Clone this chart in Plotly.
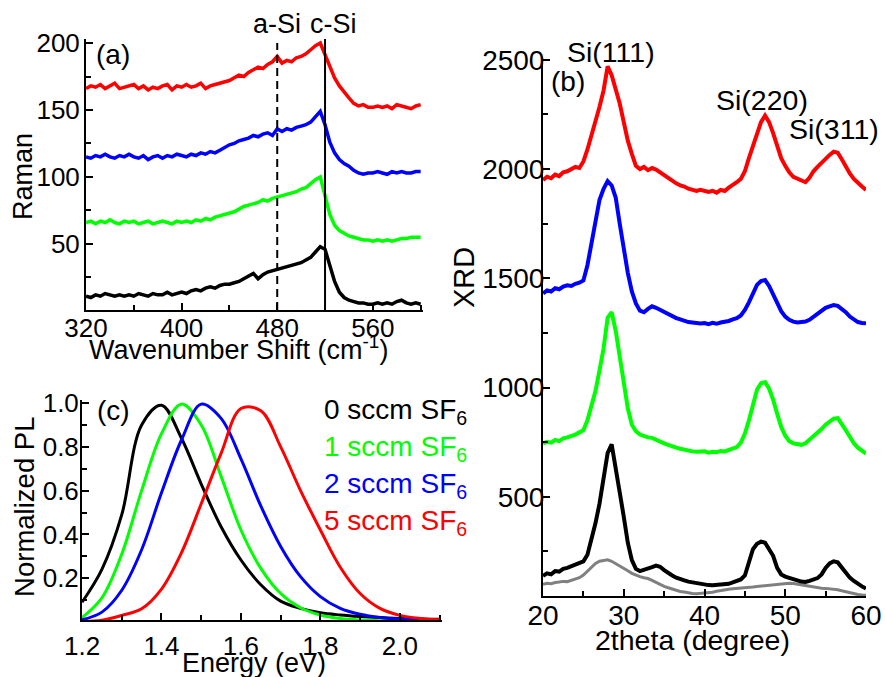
import plotly.graph_objects as go

# ---------------- (a) Raman spectra ----------------
RAMAN_SHIFT = list(range(320, 601, 4))  # cm^-1 sampling grid

RAMAN_0SCCM = [
    11, 10, 12, 11, 13, 12, 11, 12, 11, 12,
    11, 13, 12, 11, 13, 12, 12, 14, 12, 13,
    14, 13, 15, 16, 15, 17, 18, 17, 19, 20,
    20, 21, 22, 24, 26, 28, 24, 27, 29, 30,
    31, 32, 33, 34, 35, 36, 38, 40, 44, 48,
    46, 34, 22, 14, 10, 8, 7, 6, 6, 5,
    5, 6, 5, 6, 5, 7, 8, 6, 5, 6,
    5,
]
RAMAN_1SCCM = [
    66, 67, 65, 67, 66, 68, 66, 65, 67, 66,
    67, 65, 66, 67, 65, 66, 67, 66, 65, 67,
    66, 67, 66, 68, 67, 69, 68, 70, 71, 72,
    73, 74, 76, 78, 79, 80, 81, 83, 82, 84,
    85, 86, 87, 88, 89, 91, 92, 95, 98, 100,
    86, 72, 64, 60, 58, 56, 55, 54, 53, 53,
    52, 53, 52, 53, 52, 53, 54, 54, 55, 55,
    55,
]
RAMAN_2SCCM = [
    115, 114, 116, 115, 117, 115, 114, 116, 115, 117,
    115, 114, 116, 113, 115, 116, 114, 116, 115, 117,
    116, 115, 117, 116, 118, 117, 119, 118, 120, 122,
    124, 125, 127, 128, 129, 131, 130, 132, 133, 131,
    136, 134, 136, 135, 137, 138, 139, 141, 145, 149,
    139, 126, 118, 113, 110, 108, 105, 103, 102, 103,
    103, 104, 103, 102, 104, 103, 104, 103, 103, 104,
    104,
]
RAMAN_5SCCM = [
    166, 168, 167, 169, 166, 168, 170, 166, 167, 168,
    169, 166, 168, 165, 167, 166, 168, 169, 165, 168,
    167, 169, 167, 168, 170, 166, 168, 169, 170, 171,
    172, 174, 176, 175, 178, 180, 182, 181, 184, 186,
    190, 185, 187, 186, 189, 190, 192, 195, 198, 200,
    191, 182, 174, 168, 163, 159, 155, 153, 154, 152,
    152, 153, 152, 153, 151, 154, 153, 152, 151, 153,
    154,
]
A_SI_SHIFT = 480
C_SI_SHIFT = 520

# ---------------- (b) XRD patterns ----------------
TWO_THETA = [20 + 0.5 * i for i in range(81)]  # degree sampling grid

XRD_SUBSTRATE = [
    100, 104, 102, 108, 110, 113, 112, 118, 122, 130,
    142, 160, 180, 195, 205, 210, 212, 205, 195, 185,
    172, 162, 150, 142, 135, 130, 126, 118, 108, 98,
    90, 84, 78, 72, 67, 64, 60, 58, 57, 58,
    58, 60, 63, 68, 72, 75, 77, 79, 80, 81,
    82, 84, 87, 90, 92, 95, 97, 99, 101, 103,
    104, 104, 103, 100, 96, 92, 88, 86, 84, 82,
    81, 80, 78, 75, 70, 65, 60, 56, 53, 51,
    50,
]
XRD_0SCCM = [
    138, 150, 145, 160, 158, 170, 175, 182, 190, 198,
    205, 235, 300, 380, 470, 580, 700, 740, 640, 520,
    409, 290, 210, 170, 160, 165, 172, 178, 185, 180,
    165, 150, 140, 130, 122, 118, 112, 108, 104, 100,
    98, 96, 95, 97, 96, 98, 102, 108, 115, 122,
    140, 200, 260, 285, 295, 290, 260, 230, 175, 145,
    135, 128, 125, 118, 112, 110, 115, 122, 128, 145,
    175, 195, 205, 200, 175, 150, 130, 115, 100, 90,
    80,
]
XRD_1SCCM = [
    745, 752, 748, 760, 755, 768, 772, 778, 785, 795,
    805, 850, 920, 985, 1080, 1180, 1320, 1345, 1260, 1140,
    1030, 905, 830, 800, 785, 778, 772, 770, 760, 752,
    745, 738, 730, 725, 720, 715, 712, 708, 706, 705,
    708, 702, 706, 704, 710, 708, 715, 720, 728, 748,
    790, 850, 930, 990, 1020, 1025, 995, 945, 880, 820,
    780, 755, 745, 740, 738, 745, 760, 775, 792, 810,
    830, 845, 858, 860, 835, 805, 775, 745, 725, 710,
    698,
]
XRD_2SCCM = [
    1431, 1445, 1440, 1455, 1450, 1462, 1468, 1465, 1475, 1480,
    1490, 1560, 1660, 1770, 1860, 1910, 1945, 1925, 1870, 1750,
    1630, 1525, 1440, 1385, 1352, 1345, 1360, 1372, 1365, 1355,
    1350, 1340, 1330, 1318, 1312, 1305, 1300, 1298, 1295, 1293,
    1295, 1290, 1296, 1292, 1298, 1300, 1305, 1312, 1318, 1330,
    1355, 1390, 1435, 1470, 1488, 1492, 1465, 1430, 1390, 1350,
    1325, 1310, 1302, 1298, 1300, 1302, 1310, 1325, 1340, 1355,
    1365, 1372, 1378, 1374, 1360, 1345, 1325, 1310, 1300, 1296,
    1294,
]
XRD_5SCCM = [
    1950, 1965, 1958, 1975, 1968, 1985, 1990, 1998, 2010, 2005,
    2035, 2090, 2150, 2210, 2285, 2360, 2470, 2430, 2370, 2300,
    2215, 2130, 2070, 2015, 2000, 2010, 1995, 2005, 1998, 1985,
    1975, 1960, 1945, 1935, 1925, 1920, 1910, 1905, 1900, 1905,
    1898, 1895, 1900, 1892, 1905, 1900, 1915, 1925, 1940, 1955,
    1990, 2050, 2110, 2170, 2215, 2245, 2215, 2165, 2100, 2050,
    2015, 1985, 1965, 1955, 1945, 1940, 1960, 1990, 2010, 2030,
    2050, 2065, 2080, 2075, 2045, 2010, 1980, 1955, 1935, 1920,
    1905,
]

# ---------------- (c) normalized photoluminescence ----------------
ENERGY = [1.20, 1.25, 1.30, 1.35, 1.40, 1.45, 1.50, 1.55, 1.60, 1.65,
          1.70, 1.75, 1.80, 1.85, 1.90, 1.95, 2.00, 2.05, 2.10]
PL_0SCCM = [0.09, 0.24, 0.49, 0.90, 0.99, 0.84, 0.63, 0.435, 0.283, 0.17,
            0.095, 0.062, 0.042, 0.032, 0.025, 0.02, 0.016, 0.013, 0.012]
PL_1SCCM = [0.02, 0.11, 0.31, 0.60, 0.86, 0.995, 0.90, 0.665, 0.42, 0.245,
            0.13, 0.065, 0.032, 0.016, 0.009, 0.006, 0.005, 0.005, 0.005]
PL_2SCCM = [0.01, 0.045, 0.145, 0.33, 0.59, 0.83, 0.995, 0.93, 0.745, 0.53,
            0.345, 0.207, 0.116, 0.062, 0.035, 0.02, 0.012, 0.008, 0.006]
PL_5SCCM = [0.002, 0.008, 0.03, 0.06, 0.15, 0.315, 0.54, 0.77, 0.975, 0.965,
            0.80, 0.60, 0.42, 0.25, 0.13, 0.062, 0.03, 0.016, 0.01]

SAMPLE_LABELS = ["0 sccm SF<sub>6</sub>", "1 sccm SF<sub>6</sub>",
                 "2 sccm SF<sub>6</sub>", "5 sccm SF<sub>6</sub>"]
SAMPLE_COLORS = ["#000000", "#00FF00", "#0000FF", "#FF0000"]
SUBSTRATE_COLOR = "#808080"

FONT = "Liberation Sans, Arial, sans-serif"
TICK_FS = 26
XRD_TICK_FS = 28
TITLE_FS = 27
XRD_TEXT_FS = 28.5

fig = go.Figure()

raman_sets = [RAMAN_0SCCM, RAMAN_1SCCM, RAMAN_2SCCM, RAMAN_5SCCM]
for vals, col in zip(raman_sets, SAMPLE_COLORS):
    fig.add_trace(go.Scatter(x=RAMAN_SHIFT, y=vals, mode="lines",
                             line=dict(color=col, width=3.5),
                             xaxis="x", yaxis="y", showlegend=False))

fig.add_trace(go.Scatter(x=TWO_THETA, y=XRD_SUBSTRATE, mode="lines",
                         line=dict(color=SUBSTRATE_COLOR, width=3),
                         xaxis="x2", yaxis="y2", showlegend=False))
xrd_sets = [XRD_0SCCM, XRD_1SCCM, XRD_2SCCM, XRD_5SCCM]
for vals, col in zip(xrd_sets, SAMPLE_COLORS):
    fig.add_trace(go.Scatter(x=TWO_THETA, y=vals, mode="lines",
                             line=dict(color=col, width=4),
                             xaxis="x2", yaxis="y2", showlegend=False))

pl_sets = [PL_0SCCM, PL_1SCCM, PL_2SCCM, PL_5SCCM]
for vals, col in zip(pl_sets, SAMPLE_COLORS):
    fig.add_trace(go.Scatter(x=ENERGY, y=vals, mode="lines",
                             line=dict(color=col, width=3, shape="spline"),
                             xaxis="x3", yaxis="y3", showlegend=False))


def axis(domain, rng, dtick, tick0, minor_dtick, anchor, standoff, fmt="",
         size=TICK_FS):
    return dict(
        domain=domain, range=rng, anchor=anchor, automargin=False,
        showline=True, linecolor="black", linewidth=2, mirror=False,
        showgrid=False, zeroline=False,
        ticks="inside", ticklen=7, tickwidth=2, tickcolor="black",
        tick0=tick0, dtick=dtick, tickformat=fmt,
        minor=dict(ticks="inside", ticklen=5, tickwidth=2, tickcolor="black",
                   dtick=minor_dtick, tick0=tick0, showgrid=False),
        tickfont=dict(family=FONT, size=size, color="black"),
        ticklabelstandoff=standoff,
    )


layout = dict(
    template="none",
    width=885, height=677,
    margin=dict(l=0, r=0, t=0, b=0),
    paper_bgcolor="white", plot_bgcolor="rgba(0,0,0,0)",
    font=dict(family=FONT, size=TITLE_FS, color="black"),
    xaxis=axis([0.0972, 0.478], [320, 602], 80, 320, 40, "y", -6),
    yaxis=axis([0.5421, 0.9424], [0.7, 203], 50, 0, 25, "x", -1),
    xaxis2=axis([0.6136, 0.9785], [20, 60], 10, 20, 5, "y2", -7,
                size=XRD_TICK_FS),
    yaxis2=axis([0.1196, 0.9158], [46, 2513], 500, 0, 250, "x2", -9,
                size=XRD_TICK_FS),
    xaxis3=axis([0.0927, 0.4994], [1.2, 2.106], 0.2, 1.2, 0.1, "y3", 2, ".1f"),
    yaxis3=axis([0.0842, 0.4092], [0.009, 1.014], 0.2, 0, 0.1, "x3", -4, ".1f"),
)
fig.update_layout(**layout)

# marker lines for amorphous and crystalline silicon Raman modes
fig.add_shape(type="line", xref="x", yref="y", x0=A_SI_SHIFT, x1=A_SI_SHIFT,
              y0=0.7, y1=200, line=dict(color="black", width=2, dash="8px,5px"))
fig.add_shape(type="line", xref="x", yref="y", x0=C_SI_SHIFT, x1=C_SI_SHIFT,
              y0=0.7, y1=204, line=dict(color="black", width=2))


def text(s, x, y, xref="paper", yref="paper", color="black", size=TITLE_FS,
         xanchor="center", yanchor="middle", angle=0):
    fig.add_annotation(text=s, x=x, y=y, xref=xref, yref=yref,
                       showarrow=False, xanchor=xanchor, yanchor=yanchor,
                       textangle=angle,
                       font=dict(family=FONT, size=size, color=color))


text("a-Si", A_SI_SHIFT, 0.964, xref="x")
text("c-Si", 527, 0.964, xref="x")
text("(a)", 0.1277, 0.920, size=28)
text("(b)", 0.6418, 0.879, size=28)
text("(c)", 0.1277, 0.393, size=28)
text("Si(111)", 0.6904, 0.923, size=XRD_TEXT_FS)
text("Si(220)", 0.861, 0.852, size=XRD_TEXT_FS)
text("Si(311)", 0.9424, 0.809, size=XRD_TEXT_FS)

text("Raman", 0.026, 0.7386, angle=-90)
text("Wavenumber Shift (cm<sup>-1</sup>)", 0.269, 0.486)
text("Normalized PL", 0.027, 0.2511, angle=-90, size=27.5)
text("Energy (eV)", 0.287, 0.021)
text("XRD", 0.5243, 0.5894, angle=-90, size=29)
text("2theta (degree)", 0.783, 0.0547, size=XRD_TEXT_FS)

legend_y = [0.392, 0.337, 0.283, 0.228]
for lab, col, yy in zip(SAMPLE_LABELS, SAMPLE_COLORS, legend_y):
    text(lab, 0.364, yy, color=col, xanchor="left", size=28)

fig.write_html("out.html")
